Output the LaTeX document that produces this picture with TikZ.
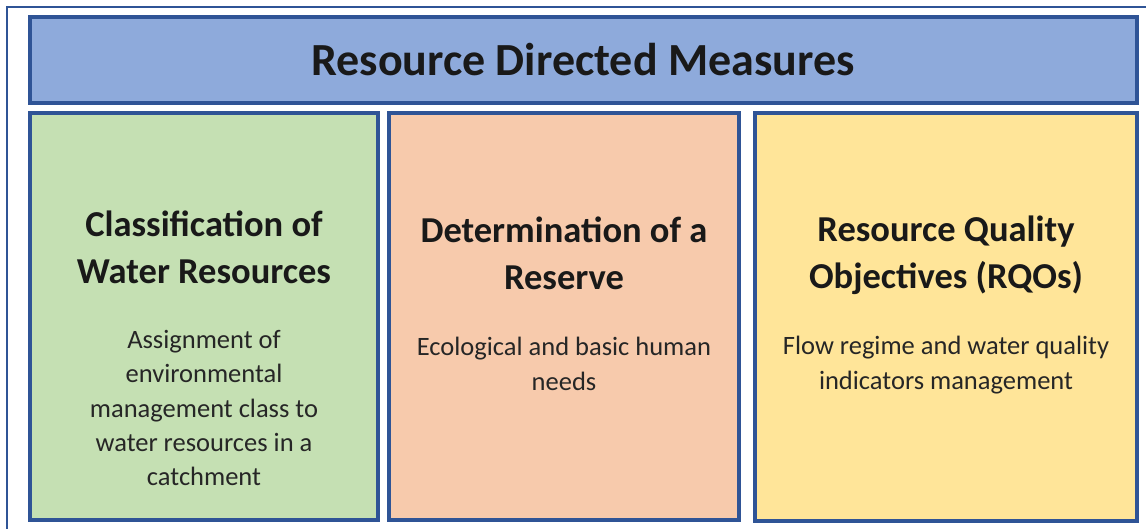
\documentclass[tikz,border=0pt]{standalone}
\usepackage{fontspec}
\setmainfont{Carlito}
\usepackage{tikz}
\usetikzlibrary{positioning}
\definecolor{edgecol}{RGB}{47,84,150}
\definecolor{titlecol}{RGB}{142,170,219}
\definecolor{classcol}{RGB}{197,224,179}
\definecolor{reservecol}{RGB}{247,202,172}
\definecolor{rqocol}{RGB}{255,229,153}
\tikzset{
  % coloured panel
  panel/.style={rectangle, draw=edgecol, line width=3.5pt, fill=#1, inner sep=0pt},
  panel/.default={white},
  % panel heading
  headtext/.style={align=center, font=\fontsize{36.5}{47}\selectfont\bfseries, text=black!90},
  % panel body text
  bodytext/.style={align=center, font=\fontsize{26.5}{34.3}\selectfont, text=black!85},
}
\begin{document}
\begin{tikzpicture}[x=1pt, y=-1pt]
  \useasboundingbox (0,0) rectangle (1146,528);

  % ── outer frame ──
  \draw[edgecol, line width=2pt] (7,540) -- (7,7) -- (1160,7);

  % ── title bar ──
  \draw[panel=titlecol] (30,17) rectangle (1137,103);
  \node[font=\fontsize{46}{52}\selectfont\bfseries, text=black!90] (title) at (583,60) {Resource Directed Measures};

  % ── three panels ──
  \draw[panel=classcol] (30,113) rectangle (378,520);
  \draw[panel=reservecol] (389,113) rectangle (739,520);
  \draw[panel=rqocol] (755,113) rectangle (1137,521);

  % classification
  \node[headtext] (classhead) at (204,247) {Classification of\\Water Resources};
  \node[bodytext] (classbody) at (204,408) {Assignment of\\environmental\\management class to\\water resources in a\\catchment};

  % reserve
  \node[headtext] (reshead) at (564,253) {Determination of a\\Reserve};
  \node[bodytext] (resbody) at (564,364) {Ecological and basic human\\needs};

  % RQOs
  \node[headtext] (rqohead) at (946,255) {Resource Quality\\Objectives (RQOs)};
  \node[bodytext] (rqobody) at (946,365) {Flow regime and water quality\\indicators management};

\end{tikzpicture}
\end{document}
